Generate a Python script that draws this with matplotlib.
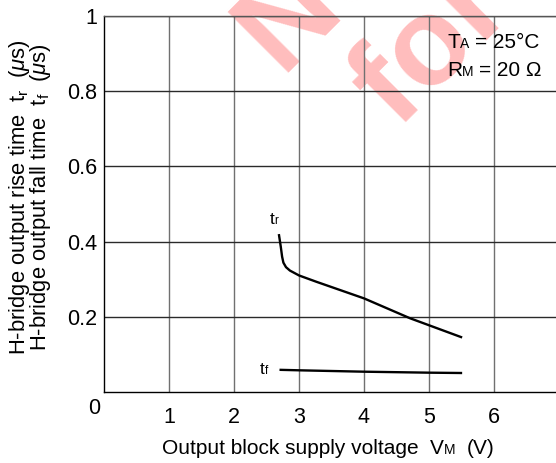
import matplotlib
matplotlib.use('Agg')
import matplotlib.pyplot as plt
from matplotlib.offsetbox import TextArea, HPacker, DrawingArea, AnnotationBbox

plt.rcParams['font.family'] = ['Liberation Sans', 'DejaVu Sans']
plt.rcParams['mathtext.fontset'] = 'custom'
plt.rcParams['mathtext.rm'] = 'Liberation Sans'
plt.rcParams['mathtext.it'] = 'Liberation Sans:italic'
plt.rcParams['mathtext.bf'] = 'Liberation Sans:bold'

# ---- data ----
vm_tr = [2.69, 2.72, 2.74, 2.76, 2.80, 2.86, 3.0, 3.27, 4.0, 4.71, 5.51]
tr = [0.420, 0.386, 0.360, 0.344, 0.332, 0.323, 0.310, 0.293, 0.249, 0.196, 0.145]
vm_tf = [2.70, 3.0, 4.0, 5.0, 5.51]
tf = [0.059, 0.0577, 0.054, 0.0514, 0.0505]

x_ticks = [1, 2, 3, 4, 5, 6]
x_tick_labels = ['1', '2', '3', '4', '5', '6']
y_ticks = [0.2, 0.4, 0.6, 0.8, 1.0]
y_tick_labels = ['0.2', '0.4', '0.6', '0.8', '1']

FS = 15      # main text size
TICK_FS = 15.5
SUB = 10     # subscript size
YL_FS = 15.8

W, H = 556, 463
fig = plt.figure(figsize=(W / 100, H / 100), dpi=100)

# watermark (below everything)
wm_kw = dict(rotation=45, rotation_mode='anchor', ha='left', va='baseline',
             fontsize=90, fontweight='bold', color='#ffbdbd', zorder=-5)
fig.text(283.6 / W, 1 - 78.4 / H, 'Not Recommended', **wm_kw)
fig.text(398 / W, 1 - 130 / H, 'for New Design', **wm_kw)

ax = fig.add_axes([104 / W, 1 - 392 / H, 1 - 104 / W, (392 - 16) / H])
ax.patch.set_visible(False)
ax.set_xlim(0, 452 / 65)
ax.set_ylim(0, 1)

ax.set_xticks(x_ticks)
ax.set_xticklabels(x_tick_labels)
ax.set_yticks(y_ticks)
ax.set_yticklabels(y_tick_labels)
ax.tick_params(axis='both', length=0, labelsize=TICK_FS, colors='black')
ax.tick_params(axis='x', pad=10.5)
ax.tick_params(axis='y', pad=5)

ax.xaxis.grid(True, color='#707070', lw=1.0)
ax.yaxis.grid(True, color='#2a2a2a', lw=1.0)
ax.set_axisbelow(True)

ax.spines['right'].set_visible(False)
ax.spines['top'].set_color('#555555')
for s in ['left', 'bottom']:
    ax.spines[s].set_color('black')
for s in ax.spines.values():
    s.set_linewidth(1.0)

ax.annotate('0', xy=(0, 0), xycoords='data', xytext=(-10, -17),
            textcoords='offset pixels', ha='center', va='center', fontsize=TICK_FS)

ax.plot(vm_tr, tr, color='black', lw=1.7, solid_capstyle='butt', zorder=3)
ax.plot(vm_tf, tf, color='black', lw=1.7, solid_capstyle='butt', zorder=3)


def rich(parts, xy, xycoords, align):
    """Text made of pieces of different sizes, all sitting on one baseline."""
    kids = []
    for p in parts:
        if isinstance(p, (int, float)):
            kids.append(DrawingArea(p, 0))
        else:
            s, sz = p
            kids.append(TextArea(s, textprops=dict(fontsize=sz, color='black')))
    pack = HPacker(children=kids, align='baseline', pad=0, sep=0)
    ab = AnnotationBbox(pack, xy, xycoords=xycoords, box_alignment=align,
                        frameon=False, pad=0, annotation_clip=False)
    ax.add_artist(ab)


sp = 0.278 * FS  # one space at main size, in points

rich([('t', 12.5), ('r', 8.5)], (2.55, 0.44), 'data', (0, 0))
rich([('t', 12.5), ('f', 8.5)], (2.40, 0.041), 'data', (0, 0))
rich([('T', FS), ('A', SUB), sp, ('= 25°C', FS)], (5.277, 0.904), 'data', (0, 0))
rich([('R', FS), ('M', SUB), sp, ('= 20 Ω', FS)], (5.277, 0.830), 'data', (0, 0))
rich([('Output block supply voltage', FS), 2 * sp, ('V', FS), ('M', SUB), 2 * sp, ('(V)', FS)],
     (328 / W, 1 - 449 / H), 'figure fraction', (0.5, 0.5))

yl_kw = dict(ha='center', va='baseline', rotation=90, rotation_mode='anchor', fontsize=YL_FS)
fig.text(25.5 / W, 1 - 197 / H, r'H-bridge output rise time  t$_\mathrm{r}$  ($\mu$s)', **yl_kw)
fig.text(46.0 / W, 1 - 197 / H, r'H-bridge output fall time  t$_\mathrm{f}$  ($\mu$s)', **yl_kw)

fig.savefig('out.png', dpi=100)
